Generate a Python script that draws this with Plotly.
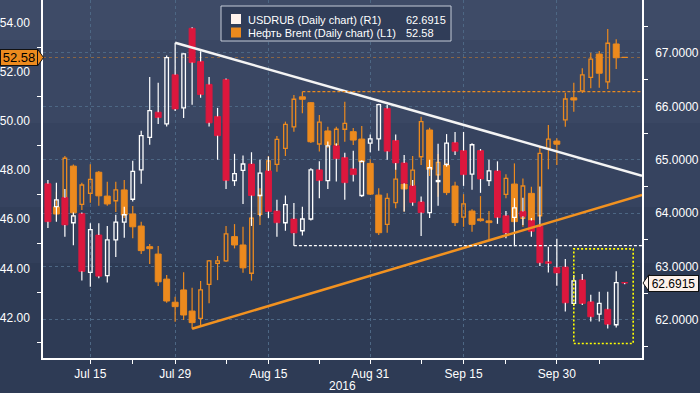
import plotly.graph_objects as go
import pandas as pd

# ---------------- data ----------------
dates = [d.strftime("%Y-%m-%d") for d in pd.bdate_range("2016-07-08", "2016-10-12")]
axis_days = [d.strftime("%Y-%m-%d") for d in pd.bdate_range("2016-07-08", "2016-10-14")]

rub_open = [64.55, 64.12, 64.29, 63.82, 63.99, 62.89, 63.59, 62.83, 63.50, 63.83,
            64.26, 64.81, 65.42, 65.89, 65.67, 66.59, 65.97, 67.46, 66.84, 66.41,
            65.81, 66.50, 64.61, 64.80, 64.92, 64.33, 64.79, 64.04, 63.82, 63.89,
            63.67, 63.89, 64.81, 64.61, 65.26, 65.04, 64.83, 64.33, 65.31, 65.39,
            65.96, 65.36, 64.94, 64.51, 64.21, 64.01, 64.59, 64.91, 65.32, 65.17,
            64.73, 65.17, 64.61, 64.79, 63.95, 63.92, 64.03, 63.86, 63.75, 63.09,
            62.98, 62.99, 62.31, 62.75, 62.34, 62.11, 62.20, 61.91, 62.70]
rub_high = [64.62, 64.57, 64.45, 64.01, 64.01, 63.81, 63.81, 63.76, 63.97, 64.12,
            64.98, 65.54, 66.55, 66.44, 66.95, 67.19, 66.99, 67.48, 67.03, 66.55,
            65.97, 66.52, 65.11, 65.08, 65.14, 65.00, 65.06, 64.25, 64.33, 64.19,
            64.12, 64.84, 64.97, 65.34, 65.31, 65.13, 65.17, 64.99, 65.47, 66.05,
            66.03, 65.47, 65.09, 64.62, 64.31, 65.00, 65.30, 65.48, 65.52, 65.52,
            65.31, 65.20, 65.00, 64.97, 64.04, 64.28, 64.29, 63.91, 64.50, 63.37,
            63.52, 63.14, 62.84, 62.86, 62.47, 62.53, 62.53, 62.91, 62.70]
rub_low = [63.72, 63.84, 63.56, 63.40, 62.74, 62.62, 62.78, 62.70, 63.18, 63.54,
           64.22, 64.55, 65.28, 65.67, 65.62, 65.91, 65.78, 66.03, 66.16, 65.62,
           65.00, 64.45, 64.51, 64.17, 63.76, 63.94, 63.91, 63.56, 63.67, 63.39,
           63.58, 63.86, 64.28, 64.45, 64.59, 64.25, 64.59, 64.30, 65.14, 65.17,
           65.00, 64.81, 64.03, 64.14, 63.57, 63.91, 64.14, 64.87, 65.09, 64.51,
           64.44, 64.38, 64.51, 63.80, 63.53, 63.38, 63.78, 63.56, 63.01, 62.89,
           62.64, 62.16, 62.26, 62.28, 61.97, 61.97, 61.84, 61.86, 62.67]
rub_close = [63.84, 64.25, 63.78, 63.95, 62.91, 63.69, 62.82, 63.50, 63.83, 63.97,
             64.78, 65.45, 65.92, 65.79, 66.91, 65.95, 66.98, 66.82, 66.22, 65.69,
             65.45, 64.61, 64.74, 64.92, 64.33, 64.75, 64.03, 63.82, 64.16, 63.63,
             63.89, 64.81, 64.61, 65.26, 65.02, 64.57, 64.72, 64.97, 65.39, 66.03,
             65.16, 64.94, 64.56, 64.20, 64.01, 64.85, 64.61, 65.31, 65.16, 64.72,
             65.28, 64.64, 64.79, 63.92, 63.63, 64.10, 63.94, 63.66, 63.07, 63.06,
             62.88, 62.32, 62.73, 62.31, 62.06, 62.31, 61.92, 62.70, 62.6915]

brent_open = [46.58, 46.50, 46.13, 48.16, 46.60, 47.05, 47.91, 46.94, 46.75, 47.19,
              46.21, 45.72, 44.88, 44.58, 43.56, 42.62, 43.12, 42.26, 41.96, 43.35,
              44.20, 44.30, 45.29, 44.95, 43.80, 46.20, 47.12, 48.23, 48.88, 49.76,
              50.98, 50.74, 49.06, 49.59, 49.02, 49.66, 49.56, 49.26, 48.27, 46.98,
              45.79, 46.67, 47.43, 47.22, 48.54, 49.63, 47.80, 48.20, 47.35, 46.08,
              46.33, 46.01, 45.93, 46.41, 47.01, 47.43, 46.03, 47.05, 46.14, 48.88,
              49.18, 50.04, 50.94, 51.22, 51.77, 52.72, 51.59, 53.13, 52.59]
brent_high = [47.23, 47.12, 48.57, 48.23, 47.48, 48.24, 47.96, 47.52, 47.52, 47.59,
              46.54, 45.90, 44.99, 44.91, 43.73, 42.84, 43.84, 43.21, 43.48, 44.34,
              44.50, 45.72, 45.80, 45.69, 46.33, 47.26, 48.57, 49.38, 49.97, 51.05,
              51.19, 50.77, 50.24, 49.76, 49.76, 50.78, 49.71, 49.79, 48.44, 47.26,
              47.05, 49.20, 48.00, 48.57, 50.17, 49.72, 48.65, 48.29, 47.52, 47.02,
              46.40, 46.94, 46.33, 47.15, 47.83, 48.27, 47.66, 47.32, 48.98, 49.83,
              49.29, 51.15, 51.55, 52.14, 52.77, 52.84, 53.74, 53.32, 52.60]
brent_low = [46.17, 45.94, 46.10, 46.10, 46.37, 46.67, 46.55, 46.55, 46.29, 46.05,
             45.22, 44.58, 44.18, 43.28, 42.60, 41.83, 41.90, 41.54, 41.62, 42.58,
             43.52, 44.27, 44.81, 43.82, 43.50, 45.76, 46.87, 47.93, 48.57, 49.56,
             50.31, 49.10, 48.75, 48.90, 48.75, 49.15, 49.02, 48.29, 46.98, 45.36,
             45.45, 46.44, 46.30, 46.98, 48.20, 47.76, 46.91, 46.98, 45.72, 45.69,
             45.49, 45.90, 45.15, 46.30, 46.85, 45.69, 45.69, 45.56, 45.97, 48.03,
             48.20, 49.76, 50.37, 51.13, 51.33, 51.35, 51.30, 52.11, 52.56]
brent_close = [46.78, 46.21, 48.48, 46.26, 47.39, 47.62, 46.95, 46.62, 47.19, 46.17,
               45.69, 44.72, 44.80, 43.45, 42.67, 42.44, 42.10, 41.79, 43.12, 44.30,
               44.30, 45.40, 44.95, 44.02, 46.04, 46.98, 48.37, 49.25, 49.86, 50.88,
               50.88, 49.15, 49.95, 49.02, 49.66, 49.90, 49.22, 48.34, 47.02, 45.45,
               46.85, 47.63, 47.23, 48.00, 49.97, 48.03, 48.31, 47.08, 45.86, 46.62,
               45.79, 45.94, 45.86, 46.87, 47.66, 45.90, 47.35, 45.93, 48.68, 49.26,
               49.05, 50.89, 50.85, 51.87, 52.51, 51.94, 53.16, 52.57, 52.58]

tick_dates = ["2016-07-15", "2016-07-29", "2016-08-15", "2016-08-31", "2016-09-15", "2016-09-30"]
tick_text = ["Jul 15", "Jul 29", "Aug 15", "Aug 31", "Sep 15", "Sep 30"]
minor_dates = ["2016-07-22", "2016-08-08", "2016-08-23", "2016-09-08", "2016-09-22", "2016-10-07"]

brent_ticks = [42, 44, 46, 48, 50, 52, 54]
brent_minor = [41, 43, 45, 47, 49, 51, 53]
rub_ticks = [62, 63, 64, 65, 66, 67]
rub_minor = [61.5, 62.5, 63.5, 64.5, 65.5, 66.5, 67.5]

# trend lines / levels (date, value)
rub_resist_dates = ["2016-07-29", "2016-10-14"]
rub_resist_vals = [67.19, 64.70]
brent_support_dates = ["2016-08-02", "2016-10-14"]
brent_support_vals = [41.54, 46.99]
rub_level = ("2016-08-18", 63.39)
brent_level = ("2016-08-19", 51.19)
box_dates = ["2016-10-04", "2016-10-13"]
box_vals = [61.56, 63.33]

last_rub = 62.6915
last_brent = 52.58

# ---------------- styling ----------------
WHITE = "#ffffff"
RED = "#dc173d"
ORANGE = "#ec8a1e"
GRID = "#4d6784"
FONT = "Liberation Sans"

pos = {d: i for i, d in enumerate(axis_days)}
X = [pos[d] for d in dates]
X0, X1 = -0.58, 70.04
B_RANGE = [40.35, 54.92]
R_RANGE = [61.288, 67.99]


def candle_traces(o, h, l, c, yaxis, up_line, down_fill, wick_color):
    wx, wy = [], []
    for xi, oi, hi, li, ci in zip(X, o, h, l, c):
        lo, hb = min(oi, ci), max(oi, ci)
        wx += [xi, xi, None, xi, xi, None]
        wy += [li, lo, None, hb, hi, None]
    out = [go.Scatter(x=wx, y=wy, mode="lines", line=dict(color=wick_color, width=1.2),
                      yaxis=yaxis, hoverinfo="skip")]
    up = [i for i in range(len(o)) if c[i] >= o[i]]
    dn = [i for i in range(len(o)) if c[i] < o[i]]
    out.append(go.Bar(x=[X[i] for i in up], base=[o[i] for i in up],
                      y=[c[i] - o[i] for i in up], width=0.42,
                      marker=dict(color="rgba(0,0,0,0)", line=dict(color=up_line, width=1.3)),
                      yaxis=yaxis))
    out.append(go.Bar(x=[X[i] for i in dn], base=[c[i] for i in dn],
                      y=[o[i] - c[i] for i in dn], width=0.7,
                      marker=dict(color=down_fill, line=dict(color=down_fill, width=1)),
                      yaxis=yaxis))
    return out


fig = go.Figure()
for t in candle_traces(rub_open, rub_high, rub_low, rub_close, "y2", WHITE, RED, WHITE):
    fig.add_trace(t)
for t in candle_traces(brent_open, brent_high, brent_low, brent_close, "y", ORANGE, ORANGE, ORANGE):
    fig.add_trace(t)

# axis arrow markers
fig.add_trace(go.Scatter(x=[X0 - 0.45] * len(brent_ticks), y=brent_ticks, mode="markers",
                         marker=dict(symbol="triangle-left", size=7, color=WHITE),
                         cliponaxis=False, yaxis="y", hoverinfo="skip"))
fig.add_trace(go.Scatter(x=[X1 + 0.5] * len(rub_ticks), y=rub_ticks, mode="markers",
                         marker=dict(symbol="triangle-right", size=7, color=WHITE),
                         cliponaxis=False, yaxis="y2", hoverinfo="skip"))

PH = 358.0
PW = 599.0


def px_x(p):
    return (p - 43.0) / PW


def px_y(p):
    return (PH - p) / PH


shapes = []
# background bands
bands = [(0, 40, "#3e4b67"), (40, 123, "#3a4763"), (123, 207, "#36435f"),
         (207, 263, "#323f5a"), (263, 393, "#2e3b55")]
for a, b, col in bands:
    shapes.append(dict(type="rect", xref="paper", yref="paper", x0=px_x(0), x1=px_x(700),
                       y0=px_y(b), y1=px_y(a), fillcolor=col, line=dict(width=0), layer="below"))

# last brent price line
shapes.append(dict(type="line", xref="x", yref="y", x0=X0, x1=X1, y0=last_brent, y1=last_brent,
                   line=dict(color="rgba(236,138,30,0.45)", width=1, dash="3px,3px"), layer="below"))
# trend lines
shapes.append(dict(type="line", xref="x", yref="y2",
                   x0=pos[rub_resist_dates[0]], x1=X1, y0=rub_resist_vals[0], y1=rub_resist_vals[1],
                   line=dict(color="#f4f4f4", width=2.5)))
shapes.append(dict(type="line", xref="x", yref="y",
                   x0=pos[brent_support_dates[0]], x1=X1, y0=brent_support_vals[0], y1=brent_support_vals[1],
                   line=dict(color="#f29220", width=2.5)))
# horizontal levels
shapes.append(dict(type="line", xref="x", yref="y2", x0=pos[rub_level[0]], x1=X1,
                   y0=rub_level[1], y1=rub_level[1], line=dict(color=WHITE, width=1.3, dash="3px,2px")))
shapes.append(dict(type="line", xref="x", yref="y", x0=pos[brent_level[0]], x1=X1,
                   y0=brent_level[1], y1=brent_level[1], line=dict(color=ORANGE, width=1.3, dash="3px,2px")))
# yellow box
shapes.append(dict(type="rect", xref="x", yref="y2", x0=pos[box_dates[0]], x1=pos[box_dates[1]],
                   y0=box_vals[0], y1=box_vals[1], line=dict(color="#ffff00", width=1.6, dash="2px,2px"),
                   fillcolor="rgba(0,0,0,0)"))
# legend box
shapes.append(dict(type="rect", xref="paper", yref="paper", x0=px_x(221), x1=px_x(451),
                   y0=px_y(41), y1=px_y(6), fillcolor="#303d58", line=dict(color="#c4ccd8", width=1)))
shapes.append(dict(type="rect", xref="paper", yref="paper", x0=px_x(231), x1=px_x(241),
                   y0=px_y(24), y1=px_y(14), fillcolor="#fff3ee", line=dict(width=0)))
shapes.append(dict(type="rect", xref="paper", yref="paper", x0=px_x(231), x1=px_x(241),
                   y0=px_y(37.5), y1=px_y(27.5), fillcolor=ORANGE, line=dict(width=0)))
# price tag tips
hb = 8.5 / 24.57
shapes.append(dict(type="path", xref="paper", yref="y",
                   path=f"M {px_x(37.5)},{last_brent + hb} L {px_x(43.5)},{last_brent} L {px_x(37.5)},{last_brent - hb} Z",
                   fillcolor=ORANGE, line=dict(color="#111111", width=1)))
hr = 8.5 / 53.34
shapes.append(dict(type="path", xref="paper", yref="y2",
                   path=f"M {px_x(649)},{last_rub + hr} L {px_x(643)},{last_rub} L {px_x(649)},{last_rub - hr} Z",
                   fillcolor="#fdf1ea", line=dict(color="#111111", width=1)))

annotations = [
    dict(xref="paper", yref="paper", x=px_x(245.5), y=px_y(20), xanchor="left", yanchor="middle",
         text="USDRUB (Daily chart) (R1)", showarrow=False, font=dict(family=FONT, size=11, color=WHITE)),
    dict(xref="paper", yref="paper", x=px_x(404), y=px_y(20), xanchor="left", yanchor="middle",
         text=f"{last_rub:.4f}", showarrow=False, font=dict(family=FONT, size=11, color=WHITE)),
    dict(xref="paper", yref="paper", x=px_x(245.5), y=px_y(33), xanchor="left", yanchor="middle",
         text="Нефть Brent (Daily chart) (L1)", showarrow=False, font=dict(family=FONT, size=11, color=WHITE)),
    dict(xref="paper", yref="paper", x=px_x(404), y=px_y(33), xanchor="left", yanchor="middle",
         text=f"{last_brent:.2f}", showarrow=False, font=dict(family=FONT, size=11, color=WHITE)),
    dict(xref="paper", yref="paper", x=0.5, y=px_y(386), xanchor="center", yanchor="middle",
         text="2016", showarrow=False, font=dict(family=FONT, size=12, color=WHITE)),
    dict(xref="paper", yref="y", x=px_x(0), y=last_brent, xanchor="left", yanchor="middle",
         text=f"{last_brent:.2f}", showarrow=False, width=36, height=15, bgcolor=ORANGE,
         bordercolor="#111111", borderwidth=1, borderpad=0,
         font=dict(family=FONT, size=13, color="#000000")),
    dict(xref="paper", yref="y2", x=px_x(648), y=last_rub, xanchor="left", yanchor="middle",
         text=f"{last_rub:.4f}", showarrow=False, width=49, height=15, bgcolor="#fdf1ea",
         bordercolor="#111111", borderwidth=1, borderpad=0,
         font=dict(family=FONT, size=12, color="#000000")),
]

fig.update_layout(
    width=700, height=393,
    margin=dict(l=43, r=58, t=0, b=35),
    paper_bgcolor="#2e3b55", plot_bgcolor="rgba(0,0,0,0)",
    showlegend=False, barmode="overlay",
    font=dict(family=FONT, size=12, color=WHITE),
    shapes=shapes, annotations=annotations,
    xaxis=dict(range=[X0, X1], tickmode="array", tickvals=[pos[d] for d in tick_dates],
               ticktext=tick_text, showgrid=True, gridcolor=GRID, griddash="3px,3px", gridwidth=1,
               ticks="outside", ticklen=4, tickcolor=WHITE, showline=True, linecolor=WHITE,
               linewidth=1.5, zeroline=False, tickfont=dict(family=FONT, size=12, color=WHITE),
               minor=dict(tickvals=[pos[d] for d in minor_dates], ticks="outside", ticklen=4,
                          tickcolor=WHITE, showgrid=False)),
    yaxis=dict(range=B_RANGE, tickmode="array", tickvals=brent_ticks,
               ticktext=[f"{v:.2f}" for v in brent_ticks], showgrid=False, ticks="",
               showline=True, linecolor=WHITE, linewidth=1.5, zeroline=False,
               ticklabelstandoff=9, tickfont=dict(family=FONT, size=12, color=WHITE),
               minor=dict(tickvals=brent_minor, ticks="outside", ticklen=4, tickcolor=WHITE,
                          showgrid=False)),
    yaxis2=dict(range=R_RANGE, overlaying="y", side="right", tickmode="array", tickvals=rub_ticks,
                ticktext=[f"{v:.4f}" for v in rub_ticks], showgrid=True, gridcolor=GRID,
                griddash="3px,3px", gridwidth=1, ticks="", showline=True, linecolor=WHITE,
                linewidth=1.5, zeroline=False, ticklabelstandoff=9,
                tickfont=dict(family=FONT, size=12, color=WHITE),
                minor=dict(tickvals=rub_minor, ticks="outside", ticklen=4, tickcolor=WHITE,
                           showgrid=False)),
)

fig.write_html("out.html")
